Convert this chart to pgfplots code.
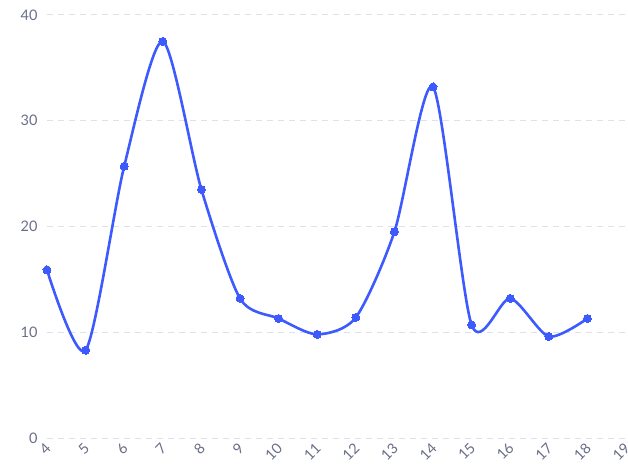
\documentclass[border=0pt]{standalone}
\usepackage{fontspec}
\setmainfont{Lato}
\usepackage{pgfplots}
\pgfplotsset{compat=1.18}
\definecolor{lineblue}{RGB}{61,90,254}
\definecolor{gridgray}{RGB}{222,224,234}
\definecolor{ticktext}{RGB}{105,110,135}
\begin{document}
\begin{tikzpicture}
\begin{axis}[scale only axis,width=579pt,height=423pt,at={(0,0)},anchor=south west,
  xmin=4,xmax=19,ymin=0,ymax=40,
  xtick={4,5,...,19},ytick={0,10,20,30,40},
  axis line style={draw=none},major tick length=0pt,
  ymajorgrids,grid style={gridgray,dash pattern=on 6pt off 5pt,line width=1pt},
  tick label style={font=\fontsize{14.5}{17}\selectfont,text=ticktext},
  /pgf/number format/assume math mode=true,
  x tick label style={rotate=45,anchor=east,xshift=-1pt,yshift=-6pt},
  y tick label style={xshift=-6pt},
  clip=false]
\addplot[lineblue,line width=2.6pt,smooth,tension=0.45,mark=*,mark size=4pt,mark options={fill=lineblue,draw=lineblue,line width=0pt}] coordinates {
(4,15.9) (5,8.3) (6,25.7) (7,37.5) (8,23.5) (9,13.2) (10,11.3) (11,9.8)
(12,11.4) (13,19.5) (14,33.2) (15,10.7) (16,13.2) (17,9.6) (18,11.3)};
\end{axis}
\pgfresetboundingbox
\path (-47pt,-30pt) rectangle (581pt,438pt);
\end{tikzpicture}
\end{document}
